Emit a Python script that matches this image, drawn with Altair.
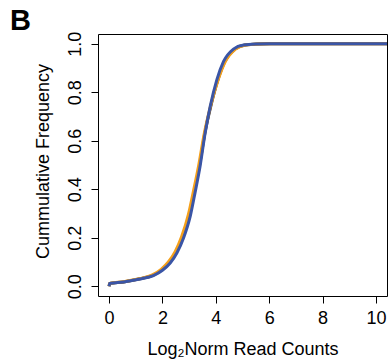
import altair as alt
import pandas as pd

# Blue series (drawn on top)
x_blue = [0.0, 0.02, 0.54, 1.16, 1.66, 2.0, 2.29, 2.54, 2.79, 3.04, 3.22, 3.41, 3.6, 3.79, 4.04, 4.29, 4.66, 5.04, 5.54, 6.0, 10.5]
y_blue = [0.0, 0.012, 0.018, 0.03, 0.044, 0.066, 0.096, 0.137, 0.199, 0.288, 0.385, 0.495, 0.632, 0.742, 0.852, 0.927, 0.978, 0.995, 0.999, 1.0, 1.0]
# Orange series
x_orange = [0.0, 0.02, 0.54, 1.16, 1.62, 1.95, 2.22, 2.47, 2.72, 2.97, 3.16, 3.36, 3.57, 3.8, 4.09, 4.36, 4.74, 5.12, 5.6, 6.1, 10.5]
y_orange = [0.0, 0.012, 0.019, 0.032, 0.047, 0.07, 0.1, 0.142, 0.205, 0.295, 0.392, 0.5, 0.632, 0.742, 0.852, 0.927, 0.978, 0.995, 0.999, 1.0, 1.0]
# Black series (underneath)
x_black = [0.0, 0.02, 0.54, 1.16, 1.64, 1.98, 2.26, 2.51, 2.76, 3.01, 3.19, 3.39, 3.59, 3.81, 4.08, 4.34, 4.71, 5.09, 5.58, 6.05, 10.5]
y_black = [0.0, 0.012, 0.018, 0.031, 0.045, 0.068, 0.098, 0.14, 0.202, 0.292, 0.389, 0.498, 0.632, 0.742, 0.852, 0.927, 0.978, 0.995, 0.999, 1.0, 1.0]

x_ticks = [0, 2, 4, 6, 8, 10]
y_ticks = [0.0, 0.2, 0.4, 0.6, 0.8, 1.0]

FONT = "Liberation Sans"

xs = alt.Scale(domain=[-0.416, 10.416], nice=False, zero=False)
ys = alt.Scale(domain=[-0.04, 1.04], nice=False, zero=False)

x_axis = alt.Axis(values=x_ticks, domain=False, grid=False, tickSize=7, tickColor="black",
                  labelFontSize=18, labelFont=FONT, labelColor="black",
                  labelBaseline="alphabetic", labelPadding=20,
                  title="Log₂Norm Read Counts", titleFont=FONT, titleFontSize=18,
                  titleFontWeight="normal", titleColor="black",
                  titleBaseline="alphabetic", titleY=58)
y_axis = alt.Axis(values=y_ticks, domain=False, grid=False, tickSize=7, tickColor="black",
                  labelFontSize=18, labelFont=FONT, labelColor="black",
                  labelAngle=270, labelAlign="center", labelBaseline="alphabetic",
                  labelPadding=11, format=".1f",
                  title="Cummulative Frequency", titleFont=FONT, titleFontSize=18,
                  titleFontWeight="normal", titleColor="black",
                  titleAngle=270, titleBaseline="alphabetic", titleX=-50, titleY=127)


def series(xv, yv, color):
    df = pd.DataFrame({"x": xv, "y": yv})
    return alt.Chart(df).mark_line(color=color, strokeWidth=3, clip=True,
                                   interpolate="monotone").encode(
        x=alt.X("x:Q", scale=xs, axis=x_axis),
        y=alt.Y("y:Q", scale=ys, axis=y_axis),
    )


black = series(x_black, y_black, "#222222")
orange = series(x_orange, y_orange, "#F5A01A")
blue = series(x_blue, y_blue, "#3A55A6")

label = alt.Chart(pd.DataFrame({"t": ["B"]})).mark_text(
    font=FONT, fontSize=29, fontWeight="bold", color="black",
    align="left", baseline="alphabetic").encode(
    text="t:N", x=alt.value(-88), y=alt.value(-4))

chart = alt.layer(black, orange, blue, label).properties(
    width=289, height=262,
    padding={"left": 98, "top": 34, "right": 1, "bottom": 68},
    autosize="none",
    background="white",
).configure_view(stroke="black", strokeWidth=1)

chart.save("out.html", embed_options={"renderer": "svg", "actions": False})
